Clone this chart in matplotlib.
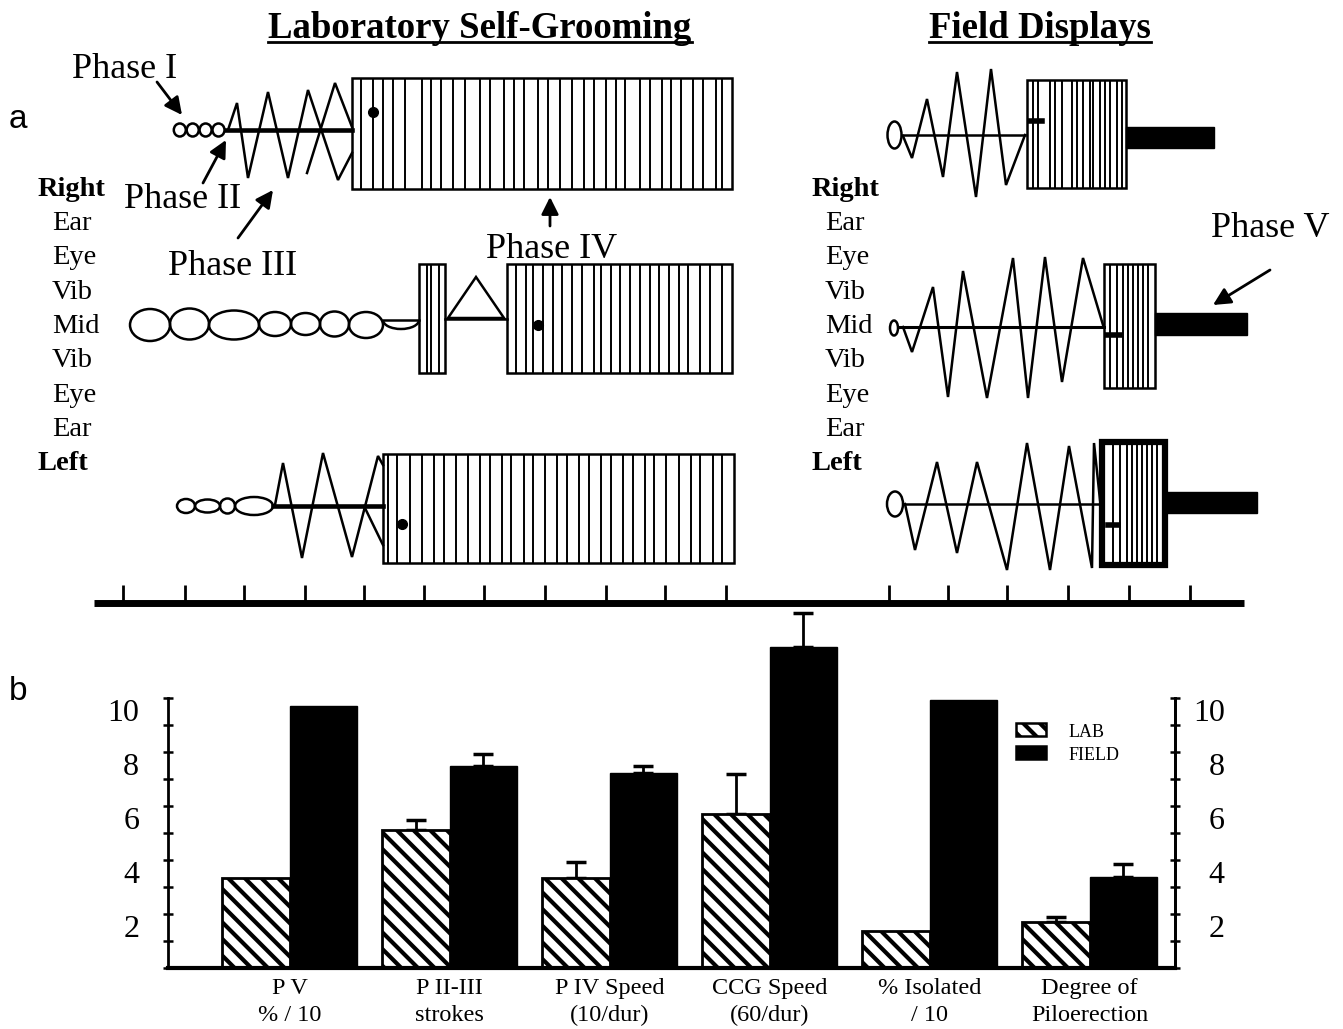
import matplotlib
matplotlib.use("Agg")
import matplotlib.pyplot as plt
import matplotlib.transforms as mtransforms
from matplotlib.patches import Rectangle, Ellipse, Arc, Polygon
import numpy as np

plt.rcParams["font.family"] = ["Liberation Serif", "DejaVu Serif"]
plt.rcParams["hatch.linewidth"] = 3.0

W, H = 1343, 1029

# ---------------- panel b data ----------------
categories = ["P V\n% / 10", "P II-III\nstrokes", "P IV Speed\n(10/dur)",
              "CCG Speed\n(60/dur)", "% Isolated\n/ 10", "Degree of\nPiloerection"]
lab_means = [3.32, 5.11, 3.32, 5.70, 1.38, 1.72]
lab_err = [0, 0.35, 0.62, 1.49, 0, 0.16]
field_means = [9.68, 7.46, 7.21, 11.9, 9.93, 3.38]
field_err = [0, 0.47, 0.25, 1.24, 0, 0.47]
ytick_major = [2, 4, 6, 8, 10]
ytick_minor = [0, 1, 3, 5, 7, 9]

# ---------------- panel a data (drawing coordinates, pixels) ----------------
timeline_ticks = [123, 185, 244, 305, 364, 424, 484, 545, 606, 665, 726,
                  889, 948, 1007, 1068, 1129, 1190]
side_labels = ["Right", "Ear", "Eye", "Vib", "Mid", "Vib", "Eye", "Ear", "Left"]

# lab row 1
lab1_circles = [(179.8, 130, 12, 13), (192.7, 130, 12, 13), (205.6, 130, 12, 13), (218.5, 130, 12, 13)]
lab1_zig_a = [(228, 130), (237, 103), (248, 178), (268, 92), (288, 178), (308, 90), (338, 180), (352, 153)]
lab1_zig_b = [(307, 173), (335, 83), (352, 127)]
lab1_stripes = [361, 373, 383, 393, 405, 422, 431, 441, 453, 465, 480, 490, 504, 514, 524,
                538, 548, 560, 572, 584, 594, 606, 616, 625, 640, 650, 662, 671, 681, 693,
                703, 716, 722]
# lab row 2
lab2_ellipses = [(150, 325, 40, 32), (189.5, 324, 39, 31), (234, 325, 50, 29), (275, 324, 32, 24),
                 (305.5, 324, 29, 22), (334.5, 324, 29, 25), (366, 325, 34, 26)]
lab2_small_stripes = [426.5, 431.4, 438.7]
lab2_triangle = [(448, 318), (476, 277), (504, 318)]
lab2_stripes = [516, 526, 533, 543, 553, 562, 572, 582, 594, 601, 611, 620, 630, 640, 650,
                659, 669, 679, 688, 700, 710, 722]
# lab row 3
lab3_ellipses = [(186, 506, 18, 14), (207.5, 506, 25, 13), (227.5, 506, 15, 15), (254, 506, 38, 18)]
lab3_zig_a = [(275, 505), (283, 463), (302, 558), (323, 453), (352, 557), (378, 456), (383, 465)]
lab3_zig_b = [(364, 506), (383, 545)]
lab3_stripes = [388, 397, 410, 422, 434, 444, 456, 468, 480, 490, 502, 511, 524, 533, 545,
                557, 567, 579, 589, 601, 611, 623, 633, 645, 654, 666, 679, 691, 700, 713, 722]

# field rows
field1_zig = [(903, 136), (912, 158), (927, 99), (943, 177), (957, 72), (976, 197),
              (991, 69), (1006, 185), (1025, 135)]
field1_stripes = [1033, 1038, 1050, 1055, 1062, 1072, 1077, 1083, 1090, 1093, 1100,
                  1105, 1110, 1117, 1122]
field2_zig = [(903, 327), (912, 352), (933, 287), (948, 397), (963, 271), (987, 398),
              (1013, 258), (1028, 398), (1045, 257), (1062, 382), (1083, 258), (1103, 325)]
field2_stripes = [1110, 1117, 1123, 1128, 1133, 1138, 1143, 1148]
field3_zig = [(905, 504), (915, 550), (937, 462), (957, 553), (977, 462), (1007, 570),
              (1027, 443), (1050, 570), (1069, 446), (1092, 568), (1094, 443), (1100, 500)]
field3_stripes = [1113, 1120, 1127, 1132, 1137, 1142, 1147, 1152, 1157]

fig = plt.figure(figsize=(W / 100, H / 100), dpi=100)

# ---------------- panel a: drawn in pixel coordinates ----------------
top = fig.add_axes([0, 0, 1, 1])
top.set_xlim(0, W)
top.set_ylim(H, 0)
top.axis("off")


def striped_box(x0, x1, y0, y1, stripes, lw=1.8):
    top.add_patch(Rectangle((x0, y0), x1 - x0, y1 - y0, fill=False, ec="k", lw=lw, zorder=3))
    top.vlines(stripes, y0, y1, colors="k", lw=1.4, zorder=2)


def ellipses(items, lw=1.8):
    for cx, cy, ew, eh in items:
        top.add_patch(Ellipse((cx, cy), ew, eh, fill=False, ec="k", lw=lw))


def zig(pts, lw=1.8):
    xs, ys = zip(*pts)
    top.plot(xs, ys, color="k", lw=lw, solid_joinstyle="miter")


def arrow(x0, y0, x1, y1):
    top.annotate("", xy=(x1, y1), xytext=(x0, y0),
                 arrowprops=dict(arrowstyle="-|>", color="k", lw=2, mutation_scale=26,
                                 shrinkA=0, shrinkB=0))


# titles
top.text(480, 38, "Laboratory Self-Grooming", ha="center", va="baseline",
         fontsize=26.5, fontweight="bold")
top.plot([268, 692], [42, 42], color="k", lw=2)
top.text(1040, 38, "Field Displays", ha="center", va="baseline", fontsize=26.5, fontweight="bold")
top.plot([929, 1151], [42, 42], color="k", lw=2)

top.text(9, 128, "a", fontsize=24, family="Liberation Sans", va="baseline")
top.text(9, 700, "b", fontsize=24, family="Liberation Sans", va="baseline")

# side labels
for i, lbl in enumerate(side_labels):
    yb = 196 + 34.25 * i
    bold = lbl in ("Right", "Left")
    for xl, xr in ((38, 52), (812, 825)):
        top.text(xl if bold else xr, yb, lbl, ha="left", va="baseline", fontsize=20.5,
                 fontweight="bold" if bold else "normal")

# phase labels
top.text(125, 78, "Phase I", ha="center", va="baseline", fontsize=26)
arrow(157, 82, 182, 115)
top.text(183, 208, "Phase II", ha="center", va="baseline", fontsize=26)
arrow(203, 183, 226, 140)
top.text(233, 275, "Phase III", ha="center", va="baseline", fontsize=26)
arrow(238, 238, 273, 190)
top.text(552, 258, "Phase IV", ha="center", va="baseline", fontsize=26)
arrow(550, 226, 550, 197)
top.text(1270, 237, "Phase V", ha="center", va="baseline", fontsize=26)
arrow(1270, 270, 1213, 305)

# lab row 1
ellipses(lab1_circles, lw=1.8)
top.plot([226, 352], [130, 130], color="k", lw=3.3)
zig(lab1_zig_a)
zig(lab1_zig_b)
striped_box(352, 732, 78, 189, lab1_stripes)
top.plot(373, 112, "o", color="k", ms=7)

# lab row 2
ellipses(lab2_ellipses)
top.add_patch(Arc((401, 320), 36, 18, theta1=0, theta2=180, ec="k", lw=1.8))
top.plot([383, 419], [320, 320], color="k", lw=1.8)
striped_box(419, 445, 264, 373, lab2_small_stripes)
top.plot([445, 507], [319, 319], color="k", lw=1.8)
top.add_patch(Polygon(lab2_triangle, closed=True, fill=False, ec="k", lw=1.8))
striped_box(507, 732, 264, 373, lab2_stripes)
top.plot(538, 325, "o", color="k", ms=7)

# lab row 3
ellipses(lab3_ellipses)
top.plot([273, 383], [506, 506], color="k", lw=3.3)
zig(lab3_zig_a)
zig(lab3_zig_b)
striped_box(383, 734, 454, 563, lab3_stripes)
top.plot(402, 524, "o", color="k", ms=7)

# field row 1
top.add_patch(Ellipse((894.5, 135), 14, 27, fill=False, ec="k", lw=1.8))
top.plot([902, 1025], [135, 135], color="k", lw=1.8)
zig(field1_zig)
striped_box(1027, 1126, 80, 188, field1_stripes)
top.plot([1030, 1042], [121, 121], color="k", lw=4)
top.add_patch(Rectangle((1126, 127), 88, 21, color="k"))

# field row 2
top.add_patch(Ellipse((894, 328), 8, 15, fill=False, ec="k", lw=1.8))
top.plot([898, 1104], [327, 327], color="k", lw=2.2)
zig(field2_zig)
striped_box(1104, 1155, 264, 388, field2_stripes)
top.plot([1107, 1120], [335, 335], color="k", lw=4)
top.add_patch(Rectangle((1155, 313), 92, 22, color="k"))

# field row 3
top.add_patch(Ellipse((895, 504), 16, 25, fill=False, ec="k", lw=1.8))
top.plot([903, 1100], [504, 504], color="k", lw=1.8)
zig(field3_zig)
striped_box(1102, 1165, 442, 565, field3_stripes, lw=4.5)
top.plot([1108, 1118], [525, 525], color="k", lw=4)
top.add_patch(Rectangle((1165, 492), 92, 21, color="k"))

# timeline
top.plot([94, 1244], [603, 603], color="k", lw=5, solid_capstyle="butt")
top.vlines(timeline_ticks, 585, 603, colors="k", lw=2)

# legend for panel b
top.add_patch(Rectangle((1016, 723), 30, 13, fc="white", ec="k", lw=1.8, hatch="\\\\"))
top.add_patch(Rectangle((1016, 746), 30, 13, fc="k", ec="k", lw=1.8))
top.text(1069, 737, "LAB", fontsize=13, va="baseline")
top.text(1069, 760, "FIELD", fontsize=13, va="baseline")

# ---------------- panel b: bar chart ----------------
x_left, x_right, y_base, y_top = 167.6, 1175.4, 968, 606
ax = fig.add_axes([x_left / W, (H - y_base) / H, (x_right - x_left) / W, (y_base - y_top) / H])
ax.set_facecolor("none")
ax.set_xlim(-0.7625, 5.536)
ax.set_ylim(0, 13.4)

x = np.arange(len(categories))
w = 0.42
ax.bar(x - w / 2, lab_means, w, color="white", edgecolor="k", hatch="\\\\", lw=2, zorder=2)
ax.bar(x + w / 2, field_means, w, color="k", edgecolor="k", lw=1, zorder=2)
for xs, means, errs in ((x - w / 2, lab_means, lab_err), (x + w / 2, field_means, field_err)):
    for xi, m, e in zip(xs, means, errs):
        if e > 0:
            ax.errorbar(xi, m, yerr=[[0], [e]], fmt="none", ecolor="k", elinewidth=2,
                        capsize=7, capthick=2.5, zorder=1)

ax.spines["top"].set_visible(False)
ax.spines["left"].set_bounds(0, 10)
ax.spines["right"].set_bounds(0, 10)
ax.spines["left"].set_linewidth(2)
ax.spines["right"].set_linewidth(2)
ax.spines["bottom"].set_linewidth(3)

ax.set_xticks(x, categories, fontsize=17.5)
ax.tick_params(axis="x", length=0, pad=7)
for t in ax.get_xticklabels():
    t.set_linespacing(1.4)

ax.set_yticks(ytick_major)
ax.set_yticklabels([str(v) for v in ytick_major], fontsize=23)
ax.set_yticks(ytick_minor, minor=True)
ax.tick_params(axis="y", which="both", direction="inout", length=7, width=1.8, pad=17)

ax2 = ax.twinx()
ax2.set_ylim(ax.get_ylim())
for s in ("top", "left", "bottom"):
    ax2.spines[s].set_visible(False)
ax2.spines["right"].set_bounds(0, 10)
ax2.spines["right"].set_linewidth(2)
ax2.set_yticks(ytick_major)
ax2.set_yticklabels([str(v) for v in ytick_major], fontsize=23, ha="right")
ax2.set_yticks(ytick_minor, minor=True)
ax2.tick_params(axis="y", which="both", direction="inout", length=7, width=1.8, pad=32)

shift = mtransforms.ScaledTranslation(0, -0.12, fig.dpi_scale_trans)
for lbl in ax.get_yticklabels() + ax2.get_yticklabels():
    lbl.set_transform(lbl.get_transform() + shift)

fig.savefig("out.png", dpi=100)
